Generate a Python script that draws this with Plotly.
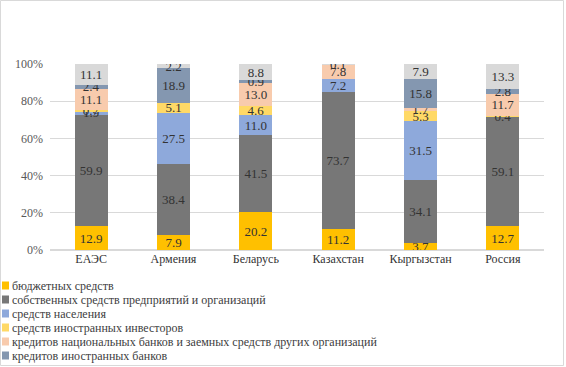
import plotly.graph_objects as go

categories = ["ЕАЭС", "Армения", "Беларусь", "Казахстан", "Кыргызстан", "Россия"]

series_names = [
    "бюджетных средств",
    "собственных средств предприятий и организаций",
    "средств населения",
    "средств иностранных инвесторов",
    "кредитов национальных банков и заемных средств других организаций",
    "кредитов иностранных банков",
    "прочих источников",
]

budget = [12.9, 7.9, 20.2, 11.2, 3.7, 12.7]
own_funds = [59.9, 38.4, 41.5, 73.7, 34.1, 59.1]
population = [1.9, 27.5, 11.0, 7.2, 31.5, None]
foreign_investors = [0.7, 5.1, 4.6, None, 5.3, 0.4]
national_credits = [11.1, None, 13.0, 7.8, 1.7, 11.7]
foreign_banks = [2.4, 18.9, 0.9, None, 15.8, 2.8]
other = [11.1, 2.2, 8.8, 0.1, 7.9, 13.3]

series_values = [budget, own_funds, population, foreign_investors,
                 national_credits, foreign_banks, other]
colors = ["#FFC000", "#777777", "#8EA9DB", "#FFD966", "#F8CBAD", "#8497B0", "#D9D9D9"]

W, H = 566, 367
L, R, T, B = 50, 22, 64, 117
pw, ph = W - L - R, H - T - B

FONT = "Liberation Serif, Times New Roman, serif"

fig = go.Figure()
for name, vals, col in zip(series_names, series_values, colors):
    fig.add_trace(go.Bar(
        x=categories, y=vals, name=name, marker=dict(color=col, line=dict(width=0)),
        text=[None if v is None else f"{v:.1f}" for v in vals],
        textposition="inside", insidetextanchor="middle", textangle=0,
        textfont=dict(family=FONT, size=13, color="#333333"),
        showlegend=False, hoverinfo="skip",
    ))


def px_x(px):
    return (px - L) / pw


def px_y(py):
    return (H - B - py) / ph


shapes = []
annotations = []
# custom legend (last entry is clipped in the original)
for i, (name, col) in enumerate(zip(series_names[:6], colors[:6])):
    cy = 285.5 + 14 * i
    shapes.append(dict(type="rect", xref="paper", yref="paper",
                       x0=px_x(2), x1=px_x(9), y0=px_y(cy - 4), y1=px_y(cy + 4),
                       fillcolor=col, line=dict(width=0)))
    annotations.append(dict(xref="paper", yref="paper", x=px_x(10), y=px_y(cy),
                            text=name, showarrow=False, xanchor="left", yanchor="middle",
                            font=dict(family=FONT, size=12, color="#404040")))
# chart border
shapes.append(dict(type="rect", xref="paper", yref="paper",
                   x0=px_x(0.5), x1=px_x(563.5), y0=px_y(365.5), y1=px_y(0.5),
                   line=dict(color="#D9D9D9", width=1), fillcolor="rgba(0,0,0,0)"))

fig.update_layout(
    width=W, height=H,
    margin=dict(l=L, r=R, t=T, b=B, pad=0),
    barmode="stack", bargap=0.6,
    plot_bgcolor="white", paper_bgcolor="white",
    uniformtext=dict(mode="show", minsize=13),
    shapes=shapes, annotations=annotations,
    font=dict(family=FONT),
    xaxis=dict(showgrid=False, showline=False, ticks="",
               tickfont=dict(family=FONT, size=12, color="#333333")),
    yaxis=dict(range=[0, 100], dtick=20, ticksuffix="%", showgrid=True,
               gridcolor="#D9D9D9", gridwidth=1, zeroline=True, zerolinecolor="#D9D9D9",
               showline=False, ticks="", ticklabelstandoff=6,
               tickfont=dict(family=FONT, size=12, color="#595959")),
)

fig.write_html("out.html", config={"displayModeBar": False},
               post_script="document.body.style.margin='0';document.body.style.overflow='hidden';")
